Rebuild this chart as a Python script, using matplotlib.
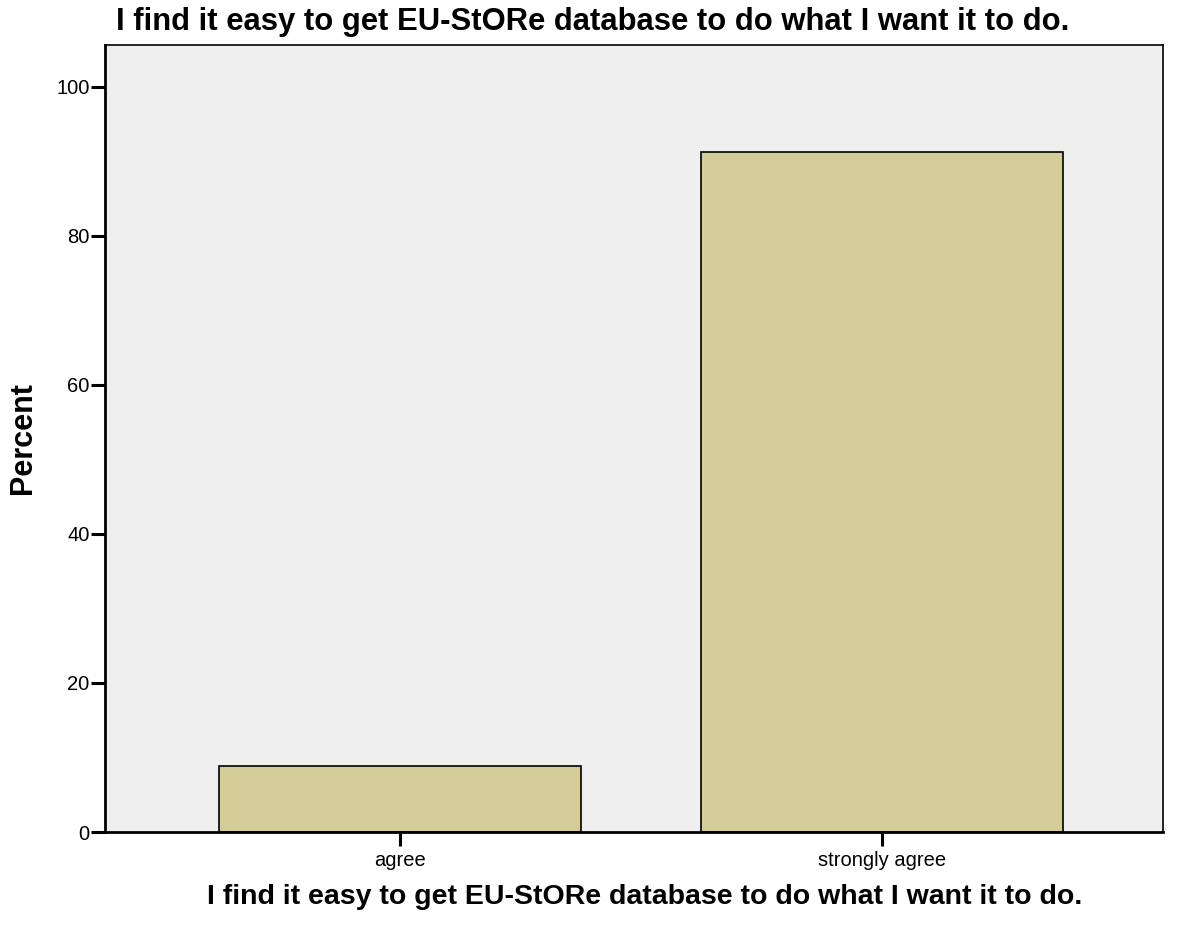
import matplotlib
matplotlib.use('Agg')
import matplotlib.pyplot as plt

# Survey responses (percent)
categories = ['agree', 'strongly agree']
percents = [8.8, 91.2]
yticks = [0, 20, 40, 60, 80, 100]
question = 'I find it easy to get EU-StORe database to do what I want it to do.'

plt.rcParams['font.family'] = ['Liberation Sans', 'DejaVu Sans']

fig = plt.figure(figsize=(11.82, 9.26), dpi=100)
ax = fig.add_axes([105 / 1182, 94 / 926, 1058 / 1182, 787 / 926])
ax.set_facecolor('#efefef')

x = range(len(categories))
ax.bar(x, percents, width=0.75, color='#d3ce97', edgecolor='black', linewidth=1.2, zorder=2)

ax.set_xlim(-0.612, 1.583)
ax.set_ylim(0, 105.6)
ax.set_xticks(list(x))
ax.set_xticklabels(categories, fontsize=14.5)
ax.set_yticks(yticks)
ax.set_yticklabels([str(t) for t in yticks], fontsize=14.5)
ax.tick_params(axis='both', direction='out', length=10, width=2.2, color='black', pad=1)
ax.tick_params(axis='x', pad=4)

for side in ['left', 'bottom']:
    ax.spines[side].set_linewidth(2)
for side in ['top', 'right']:
    ax.spines[side].set_linewidth(1.2)

ax.set_ylabel('Percent', fontsize=22, fontweight='bold', va='center')
ax.yaxis.set_label_coords(-0.0775, 0.5)
ax.set_xlabel(question, fontsize=20.5, fontweight='bold', va='center')
ax.xaxis.set_label_coords(0.51, -0.082)
fig.text(0.5017, 1 - 22 / 926, question, fontsize=22.3, fontweight='bold',
         ha='center', va='center')

plt.savefig('out.png', dpi=100)
